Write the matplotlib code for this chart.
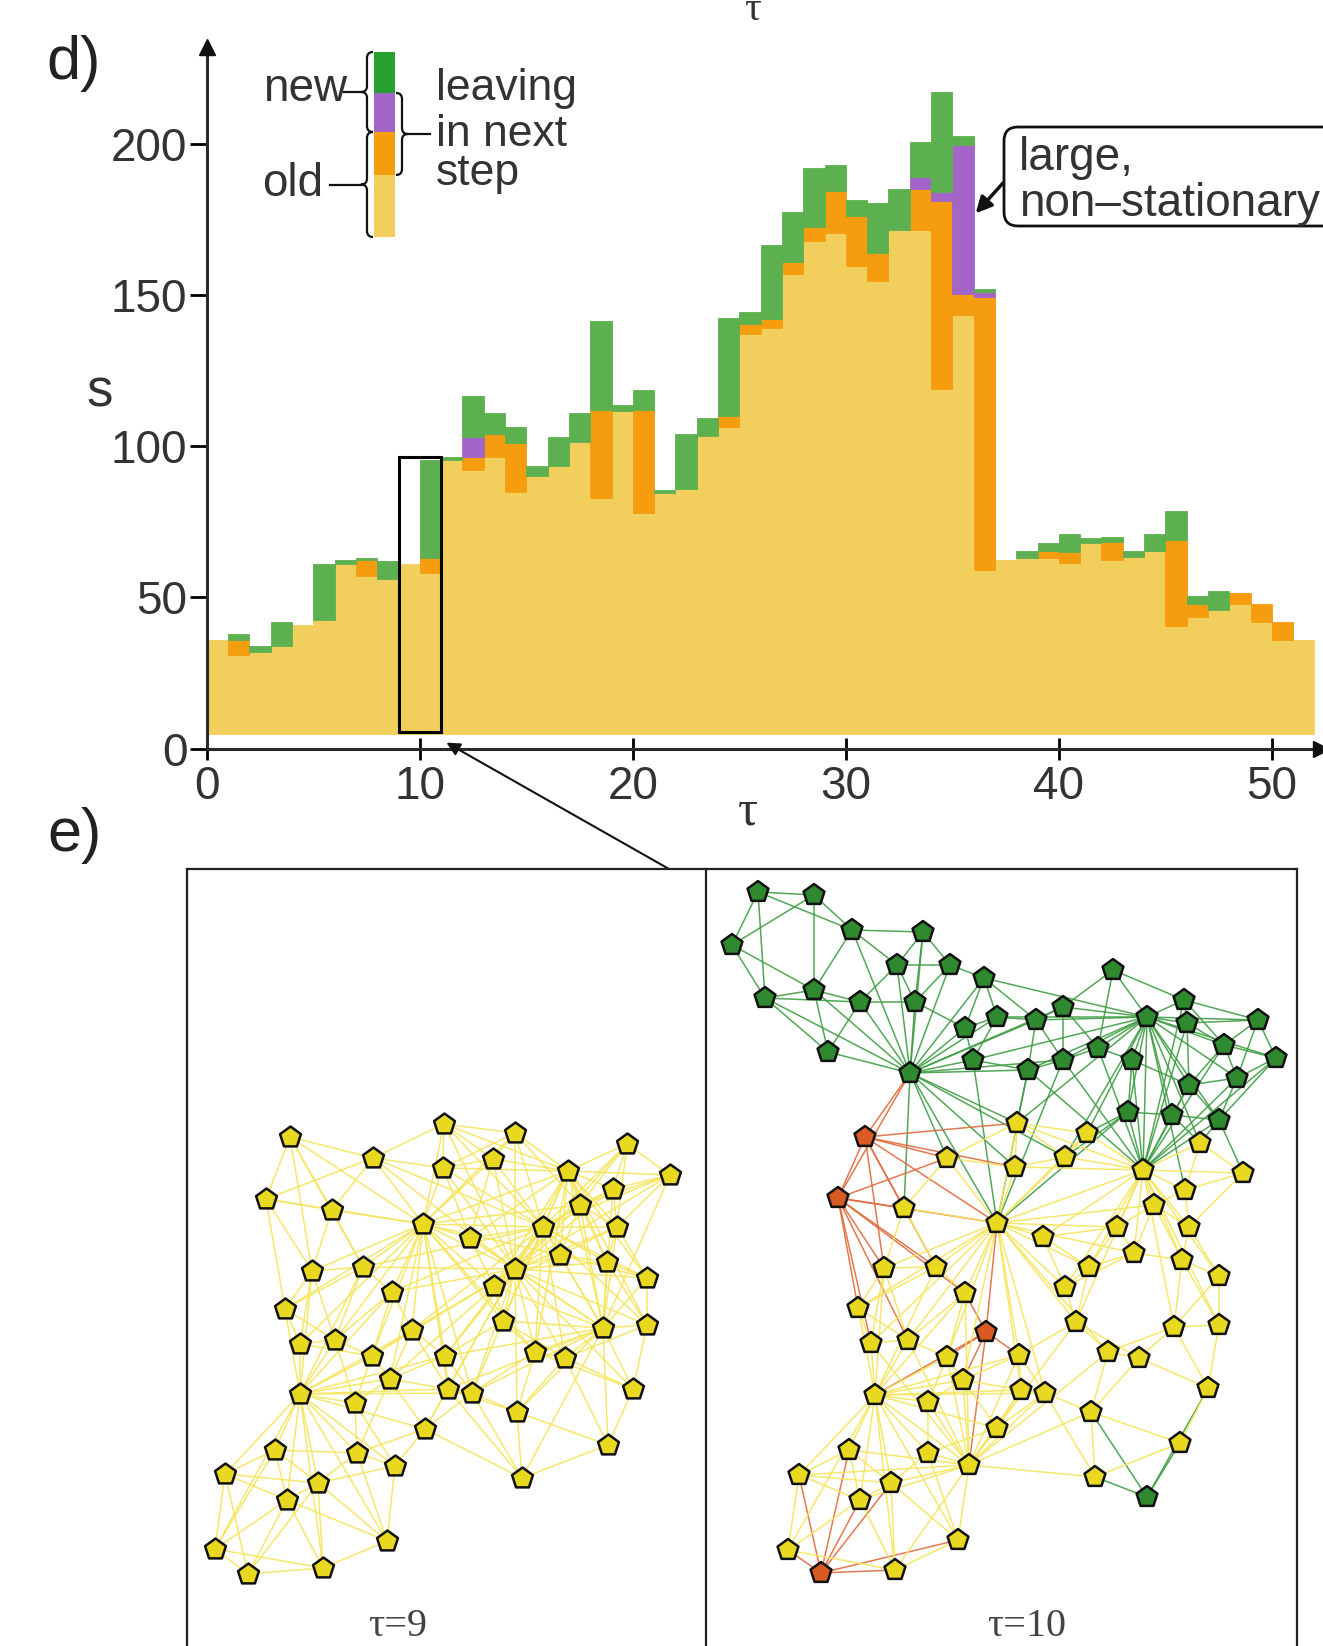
import numpy as np
import matplotlib
matplotlib.use('Agg')
import matplotlib.pyplot as plt
from matplotlib.patches import Rectangle, FancyBboxPatch, PathPatch, ConnectionPatch
from matplotlib.path import Path
from matplotlib.collections import LineCollection

plt.rcParams['font.family'] = ['Liberation Sans', 'DejaVu Sans']

# ---------------- data: panel d (stacked histogram) ----------------
# top of the "old, staying" layer for each time step tau = 0..51
old_staying = [36, 31, 32, 34, 41, 42.5, 61, 57, 56, 61,
               58, 95.5, 92, 96.5, 85, 90, 93.5, 101.5, 83, 111.5,
               78, 84.5, 86, 103.5, 106.5, 137, 139, 157, 168, 170.5,
               159.5, 154.5, 171.5, 171.5, 119, 143.5, 59, 62.5, 63, 63,
               61.5, 68, 62.5, 63.5, 65.5, 40.5, 43.5, 46, 48, 42,
               36, 36]
old_leaving = [0, 5, 0, 0, 0, 0, 0, 5.5, 0, 0,
               5, 0, 4.5, 7.5, 16, 0, 0, 0, 29, 0,
               34, 0, 0, 0, 3.5, 3.5, 3, 4, 4.5, 14,
               16.5, 9.5, 0, 13.5, 62, 7, 90.5, 0, 0, 2.5,
               3.5, 0, 6, 0, 0, 28.5, 4.5, 0, 3.5, 6,
               6, 0]
new_leaving = [0, 0, 0, 0, 0, 0, 0, 0, 0, 0,
               0, 0, 6.5, 0, 0, 0, 0, 0, 0, 0,
               0, 0, 0, 0, 0, 0, 0, 0, 0, 0,
               0, 0, 0, 4, 3, 49, 1.5, 0, 0, 0,
               0, 0, 0, 0, 0, 0, 0, 0, 0, 0,
               0, 0]
new_staying = [0, 2, 2, 8, 0, 18.5, 1.5, 0.5, 6, 0,
               32.5, 1, 13.5, 7, 5.5, 3.5, 9.5, 9.5, 29.5, 2,
               6.5, 1, 18, 6, 32.5, 4, 24.5, 16.5, 19.5, 8.5,
               5.5, 16.5, 13.5, 11.5, 33, 3, 1, 0, 2.5, 2.5,
               6, 1.5, 1.5, 2, 5.5, 9.5, 2.5, 6, 0, 0,
               0, 0]
y_ticks = [0, 50, 100, 150, 200]
x_ticks = [0, 10, 20, 30, 40, 50]

# ---------------- data: panel e (community networks, pixel coords) ----------------
left_x = [290, 444, 515, 627, 670, 373, 443, 493, 568, 266, 332, 423, 470, 613, 580,
          543, 617, 560, 607, 647, 312, 363, 392, 515, 494, 285, 300, 335, 412, 372,
          390, 445, 503, 535, 565, 603, 647, 300, 355, 448, 472, 517, 425, 633, 275,
          357, 395, 608, 225, 318, 287, 522, 215, 248, 323, 387]
left_y = [1137, 1124, 1133, 1144, 1175, 1158, 1168, 1159, 1171, 1199, 1210, 1224, 1238, 1189, 1205,
          1227, 1227, 1255, 1262, 1278, 1271, 1267, 1292, 1269, 1286, 1309, 1344, 1340, 1330, 1356,
          1379, 1356, 1321, 1352, 1358, 1328, 1325, 1394, 1403, 1389, 1393, 1412, 1429, 1389, 1450,
          1453, 1466, 1445, 1474, 1483, 1500, 1478, 1549, 1574, 1568, 1541]
left_hubs = [11, 8, 37, 35, 15, 23]

green_x = [758, 814, 732, 852, 923, 765, 814, 897, 950, 984, 860, 915, 828, 910, 965, 997, 1036, 973,
           1028, 1063, 1063, 1113, 1098, 1147, 1184, 1187, 1132, 1224, 1258, 1276, 1189, 1237, 1128,
           1172, 1219, 1147]
green_y = [892, 895, 945, 930, 932, 998, 990, 965, 965, 978, 1002, 1002, 1052, 1073, 1028, 1017, 1020,
           1060, 1070, 1007, 1060, 970, 1048, 1017, 1000, 1023, 1060, 1045, 1020, 1058, 1085, 1078, 1112,
           1115, 1120, 1497]
red_x = [865, 838, 986, 821]
red_y = [1137, 1198, 1332, 1573]
yellow_x = [1017, 1087, 947, 1015, 1065, 1143, 1200, 1243, 1185, 904, 1154, 997, 1043, 1117, 1189,
            1134, 1182, 884, 936, 1089, 1219, 965, 1065, 858, 1076, 1174, 1219, 871, 908, 947, 1019,
            1108, 1139, 963, 1021, 1045, 875, 928, 1208, 1091, 997, 849, 928, 1180, 799, 891, 969,
            860, 1095, 788, 958, 895]
yellow_y = [1123, 1133, 1158, 1167, 1157, 1170, 1143, 1173, 1190, 1208, 1205, 1223, 1237, 1227, 1227,
            1253, 1260, 1268, 1267, 1267, 1276, 1293, 1287, 1308, 1322, 1327, 1325, 1343, 1340, 1357,
            1355, 1352, 1358, 1380, 1390, 1393, 1395, 1402, 1388, 1412, 1428, 1450, 1453, 1443, 1475,
            1483, 1465, 1500, 1477, 1550, 1540, 1570]
right_hubs = [13, 23, 51, 45, 86, 76]
red_hubs = [36, 37, 39]

# ---------------- colours ----------------
C_LIGHT = '#f2cf5c'
C_ORANGE = '#f59d0e'
C_PURPLE = '#a465c8'
C_GREEN = '#5db04f'
C_GREEN_LEG = '#27a130'
N_YELLOW = '#e8d820'
N_GREEN = '#2f8a2f'
N_RED = '#d95a22'
E_YELLOW = '#f6e55c'
E_GREEN = '#3f9e44'
E_RED = '#e06a3c'
TXT = '#333333'

W, H = 1323, 1646
fig = plt.figure(figsize=(W / 100, H / 100), dpi=100)


def fx(px):
    return px / W


def fy(py):
    return 1 - py / H


# ---------------- panel d ----------------
X0, X1 = 206.8, 1320.8
Y0, Y1 = 748.7, 47.0
ax = fig.add_axes([fx(X0), fy(Y0), fx(X1) - fx(X0), fy(Y1) - fy(Y0)])
ax.set_xlim(0, 52.3)
ax.set_ylim(0, 232)

base = 5.0
tau = np.arange(len(old_staying))
tops = np.array(old_staying, dtype=float)
layers = [(old_leaving, C_ORANGE), (new_leaving, C_PURPLE), (new_staying, C_GREEN)]
ax.bar(tau, tops - base, bottom=base, width=1.0, align='edge', color=C_LIGHT,
       edgecolor=C_LIGHT, linewidth=0.6, zorder=2)
bottom = tops.copy()
for vals, col in layers:
    v = np.array(vals, dtype=float)
    m = v > 0
    ax.bar(tau[m], v[m], bottom=bottom[m], width=1.0, align='edge', color=col,
           edgecolor=col, linewidth=0.6, zorder=2)
    bottom += v

for s in ['top', 'right']:
    ax.spines[s].set_visible(False)
for s in ['left', 'bottom']:
    ax.spines[s].set_linewidth(2.2)
    ax.spines[s].set_color('#2a2a2a')
ax.plot([0], [232], marker='^', ms=11, color='#111', clip_on=False, zorder=6)
ax.plot([52.3], [0], marker='>', ms=11, color='#111', clip_on=False, zorder=6)

ax.set_yticks(y_ticks)
ax.set_xticks(x_ticks)
ax.tick_params(axis='y', direction='out', length=12, width=2, labelsize=33,
               labelcolor=TXT, pad=2)
ax.tick_params(axis='x', direction='inout', length=16, width=2, labelsize=33,
               labelcolor=TXT, pad=4)
ax.patch.set_alpha(0)

# highlighted box around tau = 9, 10
ax.add_patch(Rectangle((9, 5.5), 2, 91, fill=False, ec='black', lw=2.2, zorder=5))

# ---------------- overlay in pixel coordinates ----------------
ov = fig.add_axes([0, 0, 1, 1], zorder=10)
ov.set_xlim(0, W)
ov.set_ylim(H, 0)
ov.axis('off')

serif = ['Liberation Serif', 'DejaVu Serif']
ov.text(74, 63, 'd)', fontsize=44, ha='center', va='center', color='#222')
ov.text(74, 835, 'e)', fontsize=44, ha='center', va='center', color='#222')
ov.text(100, 392, 's', fontsize=38, ha='center', va='center', color=TXT)
ov.text(748, 812, 'τ', fontsize=36, ha='center', va='center', color=TXT, family=serif)
# fragment of the label of the panel above (cut off by the figure edge)
ov.text(752, 20, 'τ', fontsize=30, ha='center', va='baseline', color=TXT, family=serif)

# legend column
leg = [(C_GREEN_LEG, 52, 93), (C_PURPLE, 93, 132), (C_ORANGE, 132, 175), (C_LIGHT, 175, 237)]
for col, ya, yb in leg:
    ov.add_patch(Rectangle((374, ya), 21, yb - ya, color=col, lw=0))


def brace(axx, x, y0, y1, w, side, lw=1.6):
    ym = (y0 + y1) / 2
    xm = x + side * w * 0.5
    xt = x + side * w
    r = min(w * 0.5, (y1 - y0) / 8)
    verts = [(x, y0), (xm, y0), (xm, y0 + r), (xm, ym - r), (xm, ym), (xt, ym),
             (xm, ym), (xm, ym + r), (xm, y1 - r), (xm, y1), (x, y1)]
    codes = [Path.MOVETO, Path.CURVE3, Path.CURVE3, Path.LINETO, Path.CURVE3, Path.CURVE3,
             Path.CURVE3, Path.CURVE3, Path.LINETO, Path.CURVE3, Path.CURVE3]
    axx.add_patch(PathPatch(Path(verts, codes), fill=False, lw=lw, ec='#111'))
    return xt, ym


tx, ty = brace(ov, 373, 52, 132, 12, -1)
ov.plot([344, tx], [ty, ty], color='#111', lw=1.6)
tx, ty = brace(ov, 373, 132, 237, 12, -1)
ov.plot([330, tx], [ty, ty], color='#111', lw=1.6)
tx, ty = brace(ov, 396, 93, 175, 12, 1)
ov.plot([tx, 430], [ty, ty], color='#111', lw=1.6)

ov.text(263, 101, 'new', fontsize=33, va='baseline', ha='left', color=TXT)
ov.text(262, 196, 'old', fontsize=33, va='baseline', ha='left', color=TXT)
ov.text(436, 100, 'leaving', fontsize=32, va='baseline', ha='left', color=TXT)
ov.text(436, 146, 'in next', fontsize=32, va='baseline', ha='left', color=TXT)
ov.text(436, 185, 'step', fontsize=32, va='baseline', ha='left', color=TXT)

# "large, non-stationary" annotation
ov.add_patch(FancyBboxPatch((1010, 133), 340, 87, boxstyle='round,pad=6,rounding_size=14',
                            fc='white', ec='#111', lw=2, clip_on=False))
ov.text(1019, 170, 'large,', fontsize=33, va='baseline', ha='left', color=TXT)
ov.text(1019, 216, 'non–stationary', fontsize=33, va='baseline', ha='left', color=TXT)
con = ConnectionPatch(xyA=(1003, 183), coordsA=ov.transData, xyB=(36.1, 177), coordsB=ax.transData,
                      arrowstyle='-|>', mutation_scale=24, color='#111', lw=2.5)
fig.add_artist(con)

# zoom connector from box to panel e
con2 = ConnectionPatch(xyA=(669, 869), coordsA=ov.transData, xyB=(11.25, 2.0), coordsB=ax.transData,
                       arrowstyle='-|>', mutation_scale=20, color='#111', lw=1.5)
fig.add_artist(con2)

# panel frames
ov.plot([187, 1297], [869, 869], color='#222', lw=1.6)
for xv in [187, 706, 1297]:
    ov.plot([xv, xv], [869, H + 5], color='#222', lw=1.6)

ov.text(398, 1626, 'τ=9', fontsize=29, ha='center', va='center', color='#444', family=serif)
ov.text(1027, 1626, 'τ=10', fontsize=29, ha='center', va='center', color='#444', family=serif)


def make_edges(xy, k, hubs, radius, allowed=None, hub_radius2=None, hubs2=()):
    d = np.hypot(xy[:, 0, None] - xy[None, :, 0], xy[:, 1, None] - xy[None, :, 1])
    E = set()
    for i in range(len(xy)):
        for j in np.argsort(d[i])[1:k + 1]:
            E.add((min(i, j), max(i, j)))
    for h in hubs:
        for j in np.where((d[h] < radius) & (d[h] > 0))[0]:
            E.add((min(h, j), max(h, j)))
    for h in hubs2:
        for j in np.where((d[h] < hub_radius2) & (d[h] > 0) & allowed)[0]:
            E.add((min(h, j), max(h, j)))
    return sorted(E)


NODE_S = 250

# left network (tau = 9)
L = np.column_stack([left_x, left_y]).astype(float)
segs = [[L[i], L[j]] for i, j in make_edges(L, 5, left_hubs, 185)]
ov.add_collection(LineCollection(segs, colors=E_YELLOW, linewidths=1.1, alpha=0.9, zorder=2))
ov.scatter(L[:, 0], L[:, 1], s=NODE_S, marker='p', c=N_YELLOW, edgecolors='#111',
           linewidths=1.8, zorder=3)

# right network (tau = 10)
R = np.column_stack([green_x + red_x + yellow_x, green_y + red_y + yellow_y]).astype(float)
kind = np.array(['g'] * len(green_x) + ['r'] * len(red_x) + ['y'] * len(yellow_x))
ecols, segs = [], []
for i, j in make_edges(R, 4, right_hubs, 180, allowed=(kind != 'g'),
                       hub_radius2=160, hubs2=red_hubs):
    pair = {kind[i], kind[j]}
    if 'r' in pair:
        c = E_RED
    elif 'g' in pair:
        c = E_GREEN
    else:
        c = E_YELLOW
    segs.append([R[i], R[j]])
    ecols.append(c)
ov.add_collection(LineCollection(segs, colors=ecols, linewidths=1.1, alpha=0.9, zorder=2))
ncol = {'g': N_GREEN, 'r': N_RED, 'y': N_YELLOW}
ov.scatter(R[:, 0], R[:, 1], s=NODE_S, marker='p', c=[ncol[k] for k in kind],
           edgecolors='#111', linewidths=1.8, zorder=3)

fig.savefig('out.png', dpi=100)
